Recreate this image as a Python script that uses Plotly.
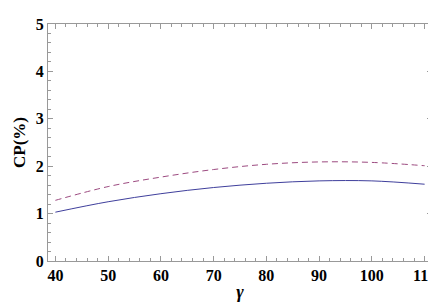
import plotly.graph_objects as go

gamma = [40, 50, 60, 70, 80, 90, 100, 110]
cp_solid = [1.03, 1.25, 1.42, 1.55, 1.64, 1.69, 1.69, 1.62]
cp_dashed = [1.28, 1.57, 1.77, 1.93, 2.04, 2.09, 2.08, 2.01]

x_ticks = [40, 50, 60, 70, 80, 90, 100, 110]
y_ticks = [0, 1, 2, 3, 4, 5]

fig = go.Figure()
fig.add_trace(go.Scatter(x=gamma, y=cp_solid, mode="lines",
                         line=dict(color="#3f3f9c", width=1, shape="spline"), showlegend=False))
fig.add_trace(go.Scatter(x=gamma, y=cp_dashed, mode="lines",
                         line=dict(color="#9c4a80", width=1, dash="6px,4px", shape="spline"), showlegend=False))

tickfont = dict(family="Liberation Serif", size=16, color="black", weight="bold")
axis_common = dict(showline=True, linecolor="#999999", linewidth=1, mirror="ticks",
                   ticks="inside", tickcolor="#999999", ticklen=5, showgrid=False, zeroline=False,
                   tickfont=tickfont, ticklabeloverflow="allow")

fig.update_xaxes(range=[38.6, 111.4], tickvals=x_ticks, ticktext=[str(v) for v in x_ticks],
                 minor=dict(dtick=2, tick0=40, ticks="inside", ticklen=3, tickcolor="#999999"),
                 title=dict(text="<i>γ</i>",
                            font=dict(family="Liberation Serif", size=18, color="black", weight="bold"),
                            standoff=2),
                 **axis_common)
fig.update_yaxes(range=[0, 5], tickvals=y_ticks, ticktext=[str(v) for v in y_ticks],
                 minor=dict(dtick=0.2, tick0=0, ticks="inside", ticklen=3, tickcolor="#999999"),
                 title=dict(text="CP(%)",
                            font=dict(family="Liberation Serif", size=17, color="black", weight="bold"),
                            standoff=5),
                 **axis_common)

fig.update_layout(width=436, height=305, margin=dict(l=40, r=8, t=12, b=52),
                  plot_bgcolor="white", paper_bgcolor="white",
                  font=dict(family="Liberation Serif", size=16, color="black"))

fig.write_html("out.html")
